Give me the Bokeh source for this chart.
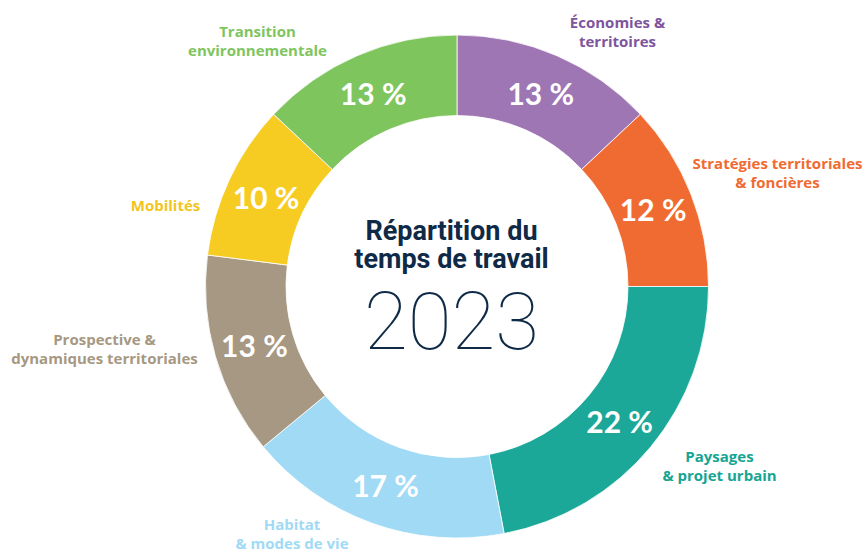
import math
from bokeh.plotting import figure
from bokeh.models import Range1d, ColumnDataSource
from bokeh.core.properties import value
from bokeh.embed import file_html
from bokeh.resources import INLINE

# ---- data (clockwise from 12 o'clock) ----
categories = [
    "Économies &\nterritoires",
    "Stratégies territoriales\n& foncières",
    "Paysages\n& projet urbain",
    "Habitat\n& modes de vie",
    "Prospective &\ndynamiques territoriales",
    "Mobilités",
    "Transition\nenvironnementale",
]
shares = [13, 12, 22, 17, 13, 10, 13]
colors = ["#9E76B4", "#F06B31", "#1BA898", "#A0DAF5", "#A69882", "#F7CC22", "#7EC55E"]
label_colors = ["#7E559E", "#F06B31", "#17A593", "#A0DAF5", "#A69882", "#F2C51C", "#7EC55E"]
title_lines = ["Répartition du", "temps de travail"]
year = "2023"

# ---- layout (page pixel coords) ----
W, H = 867, 552
CX, CY = 456.5, 286.0
R_OUT, R_IN, R_LBL = 251.5, 171.0, 211.0
label_anchor = [(617, 21), (777, 162), (719, 455), (291.5, 523), (104, 338), (165, 204), (257, 30)]
LINE_GAP = 19.5

def Y(py):
    return H - py

p = figure(width=W, height=H, output_backend="svg", toolbar_location=None,
           x_range=Range1d(0, W), y_range=Range1d(0, H),
           min_border=0, outline_line_color=None,
           background_fill_color="white", border_fill_color="white")
p.axis.visible = False
p.grid.visible = False

total = sum(shares)
starts, ends, mids = [], [], []
acc = 0.0
for s in shares:
    t1 = acc / total * 2 * math.pi
    acc += s
    t2 = acc / total * 2 * math.pi
    starts.append(math.pi / 2 - t2)
    ends.append(math.pi / 2 - t1)
    mids.append((t1 + t2) / 2)

src = ColumnDataSource(dict(x=[CX] * len(shares), y=[Y(CY)] * len(shares),
                            start=starts, end=ends, color=colors))
p.annular_wedge(x="x", y="y", inner_radius=R_IN, outer_radius=R_OUT,
                start_angle="start", end_angle="end", fill_color="color",
                line_color="white", line_width=0.8, source=src)

# percentage labels
pct_src = ColumnDataSource(dict(
    x=[CX + R_LBL * math.sin(m) for m in mids],
    y=[Y(CY - R_LBL * math.cos(m)) for m in mids],
    t=[f"{s} %" for s in shares]))
p.text(x="x", y="y", text="t", source=pct_src, text_color="white",
       text_font=value("Lato"), text_font_style="bold", text_font_size="30px",
       text_align="center", text_baseline="middle")

# category labels
lx, ly, lt, lc = [], [], [], []
for cat, (ax, ay), col in zip(categories, label_anchor, label_colors):
    for i, line in enumerate(cat.split("\n")):
        lx.append(ax)
        ly.append(Y(ay + i * LINE_GAP))
        lt.append(line)
        lc.append(col)
p.text(x=lx, y=ly, text=lt, text_color=lc, text_font=value("Open Sans"),
       text_font_style="bold", text_font_size="15px",
       text_align="center", text_baseline="middle")

# center title
p.text(x=[451, 451], y=[Y(230), Y(258)], text=title_lines, text_color="#0F2A47",
       text_font=value("Roboto"), text_font_style="bold",
       text_font_size="27px", text_align="center", text_baseline="middle")
p.text(x=[451], y=[Y(320)], text=[year], text_color="#0F2A47",
       text_font=value("Roboto Thin"), text_font_size="80px",
       text_align="center", text_baseline="middle")

open("out.html", "w").write(file_html(p, INLINE))
